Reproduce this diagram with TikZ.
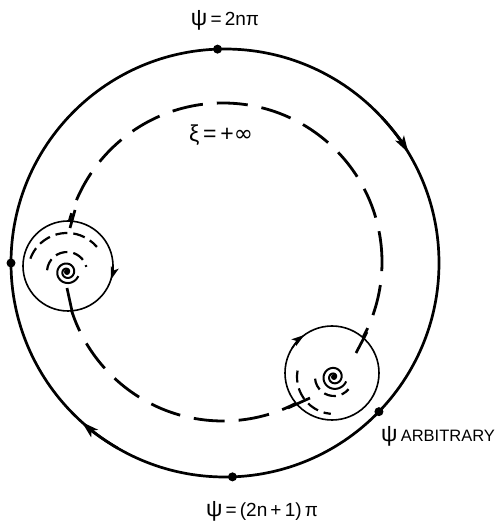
\documentclass[tikz,border=0pt]{standalone}
\usepackage{fontspec}
\setmainfont{Liberation Sans}
\newfontfamily\symfont{DejaVu Sans}
\usetikzlibrary{arrows.meta}

\newcommand{\bigpsi}{{\fontsize{23}{23}\selectfont ψ}}

\begin{document}
\begin{tikzpicture}[x=1pt,y=1pt,>={Stealth[length=17pt,width=10pt,inset=4pt]},
  every node/.style={inner sep=0pt},
  orbit/.style={line width=2.7pt},
  sepx/.style={line width=2.8pt,dash pattern=on 31pt off 14pt},
  eddy/.style={line width=1.6pt},
  swirl/.style={line width=2.2pt,dash pattern=on 12pt off 6pt},
  curl/.style={line width=2pt},
  lab/.style={font=\fontsize{19}{22}\selectfont},
  dot/.style={circle,fill,minimum size=9pt,inner sep=0pt}]
\useasboundingbox (0,0) rectangle (500,523);
\coordinate (O) at (225,260);
\coordinate (D) at (223,261);
\coordinate (L) at (68,257);
\coordinate (Ls) at (67,251);
\coordinate (R) at (332,150);
\coordinate (Rs) at (334,146);

% outer boundary psi
\draw[orbit] (O) circle[radius=214];
\draw[orbit,->] (O) ++(43:214) arc[start angle=43,end angle=31,radius=214];
\draw[orbit,->] (O) ++(-120:214) arc[start angle=-120,end angle=-132,radius=214];

% separatrix xi = +infinity
\draw[sepx] (D) circle[radius=159];

% the two eddies
\fill[white] (L) circle[radius=45];
\fill[white] (R) circle[radius=47];
\draw[eddy] (L) circle[radius=45];
\draw[eddy] (R) circle[radius=47];
\draw[eddy,>={Stealth[length=13pt,width=8pt,inset=3pt]},->] (L) ++(2:45) arc[start angle=2,end angle=-18,radius=45];
\draw[eddy,>={Stealth[length=13pt,width=8pt,inset=3pt]},->] (R) ++(148:47) arc[start angle=148,end angle=126,radius=47];

% left eddy inside
\draw[curl,shift={(Ls)}] plot[domain=0:700,samples=90,smooth] (\x:{2+\x/70});
\fill (Ls) circle[radius=3];
\draw[swirl] (Ls) ++(160:39) arc[start angle=160,end angle=40,radius=39];
\draw[swirl] (Ls) ++(175:20) arc[start angle=175,end angle=15,radius=20];
\draw[orbit] (75,313) -- (70,295);
\draw[orbit] (67,235) -- (72,212);

% right eddy inside
\draw[curl,shift={(Rs)}] plot[domain=0:700,samples=90,smooth] (\x:{2+\x/64});
\fill (Rs) circle[radius=3];
\draw[swirl] (Rs) ++(170:37) arc[start angle=170,end angle=265,radius=37];
\draw[swirl] (Rs) ++(185:19) arc[start angle=185,end angle=320,radius=19];
\draw[orbit] (367,191) -- (356,170);
\draw[orbit] (288,115) -- (310,125);

% marked points
\path (O) ++(92:214) node[dot] (ptop) {};
\path (O) ++(-88:214) node[dot] (pbot) {};
\path (O) ++(180:214) node[dot] (pleft) {};
\path (O) ++(-44:214) node[dot] (parb) {};

\node[lab,anchor=base] (ltop) at (225,497) {\bigpsi\,=\,2nπ};
\node[lab,anchor=base] (lxi) at (221,381) {\fontsize{23}{23}\selectfont ξ\,=\,+{\symfont ∞}};
\node[lab,anchor=base] (lbot) at (262,6) {\bigpsi\,=\,(2n\,+\,1)\,π};
\node[lab,anchor=base west] (larb) at (381,81) {\bigpsi\,{\fontsize{16.5}{18}\selectfont ARBITRARY}};
\end{tikzpicture}
\end{document}
